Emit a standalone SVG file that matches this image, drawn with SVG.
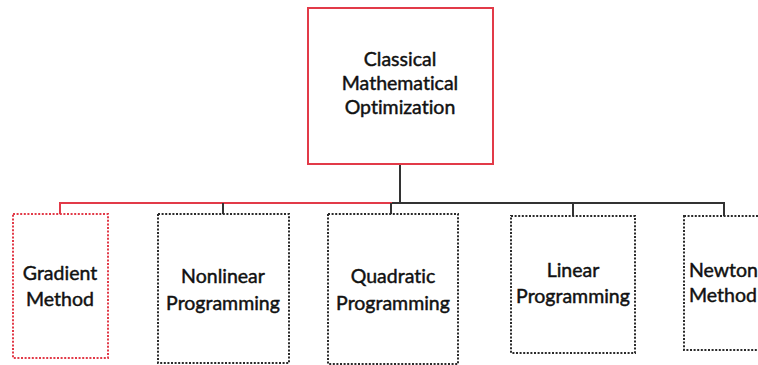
<svg xmlns="http://www.w3.org/2000/svg" width="758" height="365" viewBox="0 0 758 365">
<style>
text{font-family:Lato,"Open Sans","Liberation Sans",sans-serif;font-size:19.5px;fill:#111;stroke:#111;stroke-width:0.45;text-anchor:middle;font-variant-ligatures:none}
.top{fill:#fff;stroke:#e23a48;stroke-width:2}
.leaf{fill:#fff;stroke:#2a2a2a;stroke-width:2;stroke-dasharray:2 1.6}
.leafr{fill:#fff;stroke:#e23a48;stroke-width:2;stroke-dasharray:2 1.6}
.c{fill:none;stroke:#333;stroke-width:2}
.cr{fill:none;stroke:#e23a48;stroke-width:2}
</style>
<g id="connectors">
<line class="c" x1="400" y1="164" x2="400" y2="203"/>
<line class="c" x1="391" y1="203" x2="725" y2="203"/>
<line class="cr" x1="59" y1="203" x2="392" y2="203"/>
<line class="cr" x1="60" y1="203" x2="60" y2="214"/>
<line class="c" x1="223" y1="203" x2="223" y2="214"/>
<line class="c" x1="391" y1="203" x2="391" y2="214"/>
<line class="c" x1="573" y1="203" x2="573" y2="216"/>
<line class="c" x1="724" y1="203" x2="724" y2="216"/>
</g>
<g id="root">
<rect class="top" x="308" y="8" width="185" height="156"/>
<text x="400" y="66">Classical</text>
<text x="400" y="90">Mathematical</text>
<text x="400" y="114">Optimization</text>
</g>
<g id="gradient">
<rect class="leafr" x="13" y="214" width="95" height="144"/>
<text x="60" y="280">Gradient</text>
<text x="60" y="306">Method</text>
</g>
<g id="nonlinear">
<rect class="leaf" x="158" y="214" width="131" height="149"/>
<text x="223" y="283">Nonlinear</text>
<text x="223" y="310">Programming</text>
</g>
<g id="quadratic">
<rect class="leaf" x="328" y="214" width="130" height="150"/>
<text x="393" y="283">Quadratic</text>
<text x="393" y="310">Programming</text>
</g>
<g id="linear">
<rect class="leaf" x="511" y="216" width="124" height="137"/>
<text x="573" y="277">Linear</text>
<text x="573" y="303">Programming</text>
</g>
<g id="newton">
<rect class="leaf" x="684" y="216" width="90" height="134"/>
<text x="689" y="277" style="text-anchor:start">Newton</text>
<text x="689" y="302" style="text-anchor:start">Method</text>
</g>
</svg>
